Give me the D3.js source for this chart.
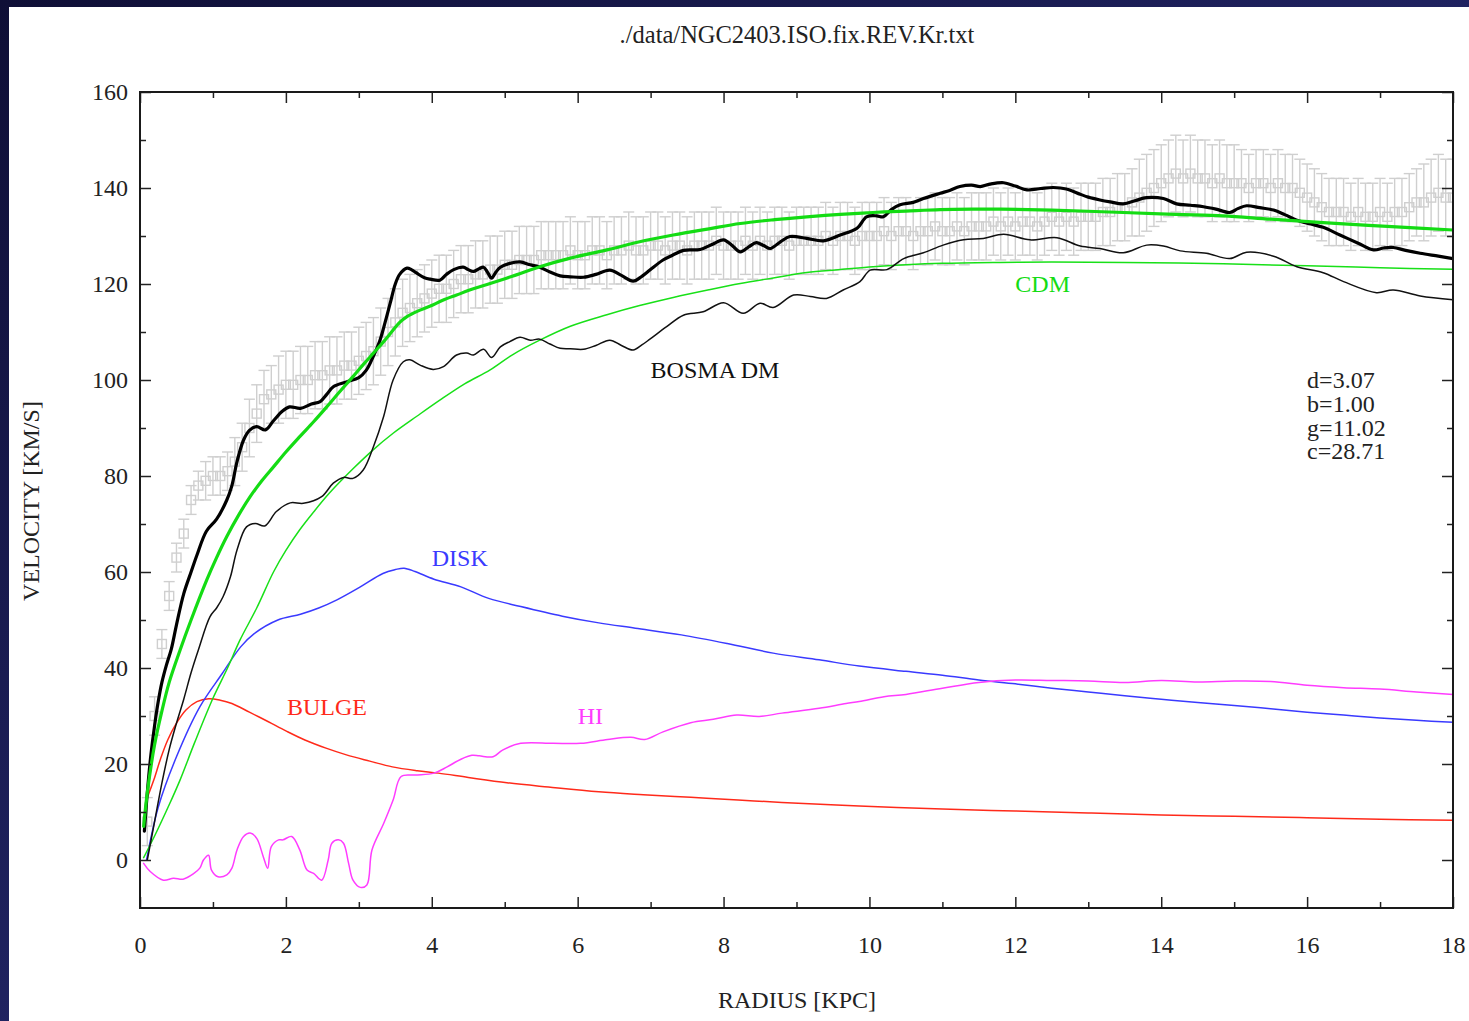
<!DOCTYPE html>
<html>
<head>
<meta charset="utf-8">
<script src="https://cdn.jsdelivr.net/npm/d3@7/dist/d3.min.js"></script>
<style>
  html, body { margin: 0; padding: 0; background: #ffffff; }
  svg { display: block; }
  text { font-family: "Liberation Serif", "Times New Roman", serif; }
</style>
</head>
<body>
<svg id="chart" width="1469" height="1021"></svg>
<script>
// ---------------- DATA ----------------
const chartTitle = "./data/NGC2403.ISO.fix.REV.Kr.txt";
const xTicks = [0, 2, 4, 6, 8, 10, 12, 14, 16, 18];
const yTicks = [0, 20, 40, 60, 80, 100, 120, 140, 160];

// observed rotation curve: radius starts at 0.1 kpc, step 0.1 kpc
const obsStartR = 0.1;
const obsStepR = 0.1;
const obsV = [
  8, 30, 45, 55, 63, 68, 75, 78, 79, 80,
  80, 81, 83, 86, 90, 93, 96, 97, 98, 99,
  99, 100, 100, 101, 101, 102, 102, 103, 103, 104,
  105, 106, 108, 110, 112, 114, 115, 116, 117, 118,
  119, 119, 120, 121, 121, 122, 122, 123, 123, 124,
  124, 125, 125, 125, 126, 126, 126, 126, 127, 126,
  126, 127, 127, 126, 127, 127, 128, 127, 127, 128,
  128, 127, 128, 128, 127, 128, 128, 128, 129, 128,
  128, 128, 129, 128, 129, 128, 129, 129, 128, 129,
  129, 129, 129, 130, 129, 130, 130, 129, 130, 130,
  130, 131, 130, 131, 131, 130, 131, 131, 132, 131,
  131, 132, 131, 132, 132, 132, 133, 132, 133, 132,
  133, 133, 132, 133, 134, 133, 134, 133, 134, 134,
  134, 135, 135, 136, 136, 137, 138, 139, 140, 141,
  142, 143, 142, 143, 142, 142, 141, 142, 141, 141,
  141, 140, 141, 141, 140, 141, 140, 140, 139, 138,
  137, 136, 135, 135, 135, 134, 135, 134, 134, 135,
  134, 135, 135, 136, 137, 137, 138, 139, 138, 138
];
const obsErr = [
  5, 4, 3, 3, 3, 3, 3, 3, 4, 4,
  4, 4, 5, 5, 6, 6, 6, 6, 7, 7,
  7, 7, 7, 7, 7, 7, 7, 7, 7, 7,
  7, 7, 7, 7, 7, 7, 7, 7, 7, 7,
  7, 7, 7, 7, 7, 7, 7, 7, 7, 7,
  7, 7, 7, 7, 7, 7, 7, 7, 7, 7,
  7, 7, 7, 7, 7, 7, 7, 7, 7, 7,
  7, 7, 7, 7, 7, 7, 7, 7, 7, 7,
  7, 7, 7, 7, 7, 7, 7, 7, 7, 7,
  7, 7, 7, 7, 7, 7, 7, 7, 7, 7,
  7, 7, 7, 7, 7, 7, 7, 7, 7, 7,
  7, 7, 7, 7, 7, 7, 7, 7, 7, 7,
  7, 7, 7, 7, 7, 7, 7, 7, 7, 7,
  7, 7, 7, 7, 7, 7, 8, 8, 8, 8,
  8, 8, 8, 8, 8, 8, 8, 8, 8, 8,
  7, 7, 7, 7, 7, 7, 7, 7, 7, 7,
  7, 7, 7, 7, 7, 7, 7, 7, 7, 7,
  7, 7, 7, 7, 7, 8, 8, 8, 8, 8
];

// total model with Bosma dark matter (thick black)
const bosmaTotal = [[0.06,6],[0.1,14],[0.15,22],[0.2,28],[0.25,33],[0.3,37],[0.36,40.5],[0.43,44],[0.5,49],[0.6,55.5],[0.7,60],[0.78,63.5],[0.91,68.5],[1.05,71],[1.19,75],[1.26,78],[1.33,83],[1.42,87.5],[1.5,89.5],[1.6,90.3],[1.72,89.6],[1.83,91.5],[1.95,93.5],[2.05,94.4],[2.2,94.1],[2.35,95],[2.47,95.5],[2.56,97],[2.65,98.6],[2.83,99.6],[3.0,100.5],[3.1,102],[3.2,105],[3.29,108.3],[3.36,112],[3.43,116],[3.5,120],[3.56,122],[3.66,123.3],[3.72,123],[3.79,122.3],[3.9,121.3],[3.98,121],[4.11,120.8],[4.2,122],[4.3,123],[4.43,123.5],[4.5,123],[4.57,122.6],[4.65,123.2],[4.71,123.5],[4.77,122.3],[4.82,121.2],[4.88,122.5],[4.94,123.5],[5.07,124.3],[5.21,124.6],[5.35,124],[5.48,123.5],[5.62,122.5],[5.76,121.7],[5.9,121.5],[6.08,121.4],[6.25,122],[6.44,122.9],[6.6,121.8],[6.76,120.6],[6.88,121.6],[6.99,122.9],[7.17,125],[7.3,126],[7.45,127],[7.68,127.2],[7.85,128.3],[8.0,129.2],[8.12,128],[8.23,126.7],[8.35,127.8],[8.45,128.6],[8.55,128],[8.64,127.4],[8.78,128.8],[8.91,129.9],[9.14,129.5],[9.37,129],[9.6,130.2],[9.83,131.6],[9.96,134],[10.1,134.2],[10.19,134],[10.3,135.5],[10.42,136.5],[10.6,137],[10.74,137.8],[10.97,138.9],[11.1,139.5],[11.24,140.3],[11.4,140.6],[11.52,140.3],[11.65,140.8],[11.84,141.1],[12.0,140.4],[12.16,139.6],[12.35,139.9],[12.52,140.1],[12.7,139.8],[12.89,138.7],[13.0,138.1],[13.16,137.5],[13.3,137.1],[13.48,136.7],[13.65,137.4],[13.8,138],[14.03,137.8],[14.21,136.7],[14.4,136.4],[14.58,136.1],[14.75,135.6],[14.94,134.9],[15.05,135.7],[15.17,136.3],[15.35,135.9],[15.54,135.4],[15.7,134.4],[15.86,133.3],[16.05,132.5],[16.22,131.8],[16.45,130.2],[16.7,128.5],[16.91,127.1],[17.05,127.5],[17.18,127.6],[17.35,127],[17.55,126.4],[17.8,125.8],[18.0,125.3]];

// Bosma dark matter component (thin black)
const bosmaDM = [[0.1,0],[0.2,8],[0.3,16],[0.4,23],[0.5,28.5],[0.6,33.5],[0.7,39],[0.8,43.75],[0.96,50.7],[1.05,52.5],[1.14,54.9],[1.24,59],[1.33,64.6],[1.46,69.4],[1.58,70.1],[1.71,69.6],[1.87,72.6],[2.06,74.4],[2.24,74.3],[2.49,75.7],[2.65,78.5],[2.79,79.7],[2.92,79.5],[3.06,81.25],[3.2,86.1],[3.34,92.4],[3.47,100],[3.61,103.8],[3.7,104.2],[3.84,103.1],[4.02,102.2],[4.16,102.8],[4.34,105.2],[4.48,105.6],[4.57,105.2],[4.71,106.4],[4.82,104.7],[4.94,106.9],[5.07,108],[5.21,108.9],[5.35,108.3],[5.48,108.5],[5.62,107.5],[5.76,106.6],[5.9,106.5],[6.08,106.4],[6.25,107.2],[6.44,108.3],[6.6,107.2],[6.76,106.25],[6.88,107.3],[6.99,108.5],[7.22,111.1],[7.45,113.5],[7.72,114.2],[8.0,116.1],[8.27,113.9],[8.5,116],[8.68,115.1],[8.96,117.7],[9.19,117.4],[9.41,117],[9.64,118.75],[9.87,120.5],[10.01,122.9],[10.24,123],[10.47,125.3],[10.74,126.5],[11.01,128.1],[11.29,129.2],[11.56,129.5],[11.84,130.35],[12.2,129.2],[12.57,129.65],[12.89,127.9],[13.16,127.4],[13.48,126.5],[13.8,128.1],[14.03,127.9],[14.26,126.9],[14.62,126.4],[14.94,125.3],[15.17,126.6],[15.54,125.8],[15.86,123.6],[16.22,122.35],[16.5,120.5],[16.95,118.2],[17.18,118.75],[17.55,117.5],[18.0,116.7]];

// total model with CDM halo (thick green)
const cdmTotal = [[0.05,7],[0.1,14],[0.2,24],[0.3,31],[0.4,37],[0.55,43.75],[0.7,50],[0.914,58.3],[1.05,63],[1.19,67.4],[1.35,71.8],[1.51,75.7],[1.67,79],[1.83,81.9],[2.0,85],[2.19,88.2],[2.38,91.3],[2.56,94.4],[2.74,97.6],[2.92,100.7],[3.06,103.2],[3.2,105.6],[3.34,108],[3.47,110.4],[3.56,112],[3.66,113.2],[3.8,114.3],[3.98,115.4],[4.15,116.6],[4.34,117.7],[4.57,119],[4.8,120.1],[5.16,121.9],[5.48,123.6],[5.9,125.4],[6.4,127.1],[6.85,128.8],[7.31,130.2],[7.8,131.5],[8.23,132.6],[8.7,133.4],[9.14,134],[9.6,134.5],[10.05,134.9],[10.5,135.2],[10.97,135.5],[11.4,135.6],[11.8,135.6],[12.5,135.4],[13.48,134.9],[14.2,134.5],[14.85,134.2],[15.5,133.5],[16.22,132.8],[17.1,132],[18.0,131.25]];

// CDM halo component (thin green)
const cdmHalo = [[0.05,0.5],[0.2,5],[0.4,11.5],[0.55,16.7],[0.75,24.5],[1.0,33.7],[1.2,40],[1.37,45.8],[1.6,52.5],[1.83,60],[2.0,64.5],[2.19,68.8],[2.38,72.5],[2.6,76.5],[2.92,81.5],[3.2,85.5],[3.47,88.9],[3.8,92.5],[4.11,95.8],[4.45,99.2],[4.8,102.1],[5.1,105.2],[5.48,108.3],[5.9,111.2],[6.4,113.6],[6.85,115.5],[7.31,117.2],[7.8,118.8],[8.23,120.1],[8.7,121.3],[9.14,122.4],[9.6,123],[10.05,123.6],[10.5,124],[11.0,124.3],[11.79,124.5],[12.5,124.6],[13.5,124.5],[14.85,124.2],[16.0,123.8],[17.0,123.4],[18.0,123.05]];

// stellar disk (blue)
const disk = [[0.09,0],[0.25,11],[0.5,21.5],[0.82,31.9],[1.13,38.9],[1.38,44.4],[1.57,47.2],[1.89,50],[2.2,51.2],[2.45,52.5],[2.7,54.2],[3.02,56.9],[3.33,59.7],[3.5,60.5],[3.62,60.8],[3.77,60.1],[4.03,58.5],[4.4,56.9],[4.78,54.5],[5.22,52.8],[5.79,50.8],[6.29,49.4],[6.79,48.3],[7.42,46.9],[8.05,45.1],[8.68,43.1],[9.31,41.7],[9.86,40.4],[10.5,39.3],[11,38.5],[11.5,37.5],[12,36.7],[12.5,35.8],[13,35],[13.5,34.2],[14,33.5],[14.5,32.8],[15,32.2],[15.5,31.5],[16,30.8],[16.5,30.2],[17,29.6],[17.5,29.1],[18,28.7]];

// bulge (red)
const bulge = [[0.1,13],[0.19,16.7],[0.28,21],[0.38,25],[0.5,28.5],[0.63,31.25],[0.78,33],[0.94,33.6],[1.1,33.3],[1.26,32.6],[1.5,30.8],[1.76,28.8],[2.0,26.9],[2.26,25],[2.55,23.3],[2.83,21.9],[3.15,20.6],[3.46,19.4],[3.8,18.6],[4.09,18.1],[4.5,17.2],[5.03,16.1],[5.6,15.2],[6.29,14.2],[6.9,13.6],[7.55,13.05],[8.2,12.5],[8.8,12.0],[9.86,11.25],[11,10.6],[12,10.2],[13,9.8],[14,9.4],[15,9.1],[16,8.8],[17,8.5],[18,8.3]];

// HI gas (magenta)
const hiGas = [[0.05,-0.7],[0.14,-2.4],[0.32,-4.2],[0.46,-3.8],[0.59,-4],[0.73,-2.9],[0.82,-1.7],[0.87,0],[0.94,1],[0.98,-2.1],[1.07,-3.5],[1.19,-3.1],[1.26,-1.7],[1.33,2.1],[1.42,4.9],[1.51,5.6],[1.6,4.5],[1.69,0.7],[1.75,-1.7],[1.8,2.8],[1.9,4.2],[1.96,4.2],[2.08,4.9],[2.19,2.1],[2.29,-2.1],[2.38,-2.8],[2.49,-4.2],[2.58,0],[2.63,3.5],[2.72,4.2],[2.79,3.5],[2.86,-0.7],[2.92,-4.2],[3.02,-5.7],[3.11,-5.2],[3.18,2.1],[3.34,7.6],[3.47,12.5],[3.58,17.4],[3.77,17.7],[4.03,18.1],[4.21,19.4],[4.4,21],[4.55,21.8],[4.65,21.7],[4.84,21.5],[4.97,22.9],[5.22,24.3],[5.66,24.3],[6.04,24.3],[6.41,25.1],[6.73,25.55],[6.92,25.1],[7.17,26.7],[7.55,28.6],[7.86,29.3],[8.18,30.2],[8.49,29.9],[8.8,30.6],[9.31,31.6],[9.68,32.6],[9.86,33],[10.2,34],[10.5,34.5],[11.0,35.8],[11.5,37],[12,37.5],[12.5,37.4],[13,37.3],[13.5,37],[14,37.4],[14.5,37.1],[15,37.3],[15.5,37.2],[16,36.4],[16.5,35.9],[17,35.6],[17.5,35],[18,34.5]];

const fitParams = ["d=3.07", "b=1.00", "g=11.02", "c=28.71"];

// ---------------- DRAWING ----------------
const W = 1469, H = 1021;
const svg = d3.select("#chart");

// navy frame background
const defs = svg.append("defs");
const grad = defs.append("linearGradient").attr("id", "bg")
  .attr("x1", "0").attr("y1", "0").attr("x2", "1").attr("y2", "1");
grad.append("stop").attr("offset", "0%").attr("stop-color", "#0f0f36");
grad.append("stop").attr("offset", "100%").attr("stop-color", "#30368a");
svg.append("rect").attr("width", W).attr("height", H).attr("fill", "url(#bg)");
svg.append("rect").attr("x", 9).attr("y", 7).attr("width", W - 9).attr("height", H - 7).attr("fill", "#ffffff");

const x = d3.scaleLinear().domain([0, 18]).range([140, 1453]);
const y = d3.scaleLinear().domain([-10, 160]).range([908, 92]);

const plot = svg.append("g");
plot.append("clipPath").attr("id", "clip")
  .append("rect").attr("x", x(0)).attr("y", y(160)).attr("width", x(18) - x(0)).attr("height", y(-10) - y(160));

// observed data with error bars
const obs = obsV.map((v, i) => ({ r: +(obsStartR + i * obsStepR).toFixed(2), v: v, e: obsErr[i] }));
const gObs = plot.append("g").attr("clip-path", "url(#clip)")
  .attr("stroke", "#cfcfcf").attr("stroke-width", 1.4).attr("fill", "none");
const cap = 5.5, sq = 4.5;
obs.forEach(d => {
  const cx = x(d.r), cy = y(d.v), y1 = y(d.v + d.e), y2 = y(d.v - d.e);
  gObs.append("line").attr("x1", cx).attr("x2", cx).attr("y1", y1).attr("y2", y2);
  gObs.append("line").attr("x1", cx - cap).attr("x2", cx + cap).attr("y1", y1).attr("y2", y1);
  gObs.append("line").attr("x1", cx - cap).attr("x2", cx + cap).attr("y1", y2).attr("y2", y2);
  gObs.append("rect").attr("x", cx - sq).attr("y", cy - sq).attr("width", 2 * sq).attr("height", 2 * sq);
});

const lineGen = d3.line().x(d => x(d[0])).y(d => y(d[1])).curve(d3.curveCatmullRom.alpha(0.5));
const series = [
  { data: bulge, color: "#ff2a1a", w: 1.5 },
  { data: disk, color: "#3a3aff", w: 1.5 },
  { data: hiGas, color: "#ff3cff", w: 1.5 },
  { data: cdmHalo, color: "#18e018", w: 1.5 },
  { data: bosmaDM, color: "#111111", w: 1.5 },
  { data: bosmaTotal, color: "#000000", w: 3.2 },
  { data: cdmTotal, color: "#14dc14", w: 3.2 }
];
const gLines = plot.append("g").attr("clip-path", "url(#clip)");
series.forEach(s => {
  gLines.append("path").datum(s.data).attr("d", lineGen)
    .attr("fill", "none").attr("stroke", s.color).attr("stroke-width", s.w)
    .attr("stroke-linejoin", "round").attr("stroke-linecap", "round");
});

// axes with inward ticks
const fontSize = 24;
const xMinor = d3.range(1, 18, 2);
const yMinor = d3.range(-10, 160, 20).filter(v => v > -10);
function styleAxis(g) {
  g.select(".domain").remove();
  g.selectAll(".tick line").attr("stroke", "#222").attr("stroke-width", 1.5);
  g.selectAll(".tick text").attr("fill", "#222").style("font-size", fontSize + "px")
    .style("font-family", '"Liberation Serif", "Times New Roman", serif');
}
svg.append("g").attr("transform", `translate(0,${y(-10)})`)
  .call(d3.axisBottom(x).tickValues(xTicks).tickSize(-11).tickPadding(28).tickFormat(d3.format("d"))).call(styleAxis);
svg.append("g").attr("transform", `translate(0,${y(-10)})`)
  .call(d3.axisBottom(x).tickValues(xMinor).tickSize(-6).tickFormat("")).call(styleAxis);
svg.append("g").attr("transform", `translate(0,${y(160)})`)
  .call(d3.axisTop(x).tickValues(xTicks).tickSize(-11).tickFormat("")).call(styleAxis);
svg.append("g").attr("transform", `translate(0,${y(160)})`)
  .call(d3.axisTop(x).tickValues(xMinor).tickSize(-6).tickFormat("")).call(styleAxis);
svg.append("g").attr("transform", `translate(${x(0)},0)`)
  .call(d3.axisLeft(y).tickValues(yTicks).tickSize(-11).tickPadding(12).tickFormat(d3.format("d"))).call(styleAxis);
svg.append("g").attr("transform", `translate(${x(0)},0)`)
  .call(d3.axisLeft(y).tickValues(yMinor).tickSize(-6).tickFormat("")).call(styleAxis);
svg.append("g").attr("transform", `translate(${x(18)},0)`)
  .call(d3.axisRight(y).tickValues(yTicks).tickSize(-11).tickFormat("")).call(styleAxis);
svg.append("g").attr("transform", `translate(${x(18)},0)`)
  .call(d3.axisRight(y).tickValues(yMinor).tickSize(-6).tickFormat("")).call(styleAxis);

// frame
svg.append("rect").attr("x", x(0)).attr("y", y(160)).attr("width", x(18) - x(0)).attr("height", y(-10) - y(160))
  .attr("fill", "none").attr("stroke", "#1a1a1a").attr("stroke-width", 2);

// titles
svg.append("text").attr("x", 797).attr("y", 43).attr("text-anchor", "middle")
  .style("font-size", "24.5px").attr("fill", "#222").text(chartTitle);
svg.append("text").attr("x", 797).attr("y", 1008).attr("text-anchor", "middle")
  .style("font-size", fontSize + "px").attr("fill", "#222").text("RADIUS [KPC]");
svg.append("text").attr("transform", "translate(39,501) rotate(-90)").attr("text-anchor", "middle")
  .style("font-size", fontSize + "px").attr("fill", "#222").text("VELOCITY [KM/S]");

// curve labels (positions in data units)
const curveLabels = [
  { t: "BULGE", r: 2.015, v: 30.2, c: "#ff2a1a" },
  { t: "HI", r: 6.0, v: 28.3, c: "#ff3cff" },
  { t: "DISK", r: 4.0, v: 61.25, c: "#3a3aff" },
  { t: "BOSMA DM", r: 7.0, v: 100.4, c: "#111111" },
  { t: "CDM", r: 12.0, v: 118.3, c: "#14dc14" }
];
curveLabels.forEach(l => {
  svg.append("text").attr("x", x(l.r)).attr("y", y(l.v))
    .style("font-size", fontSize + "px").attr("fill", l.c).text(l.t);
});
fitParams.forEach((p, i) => {
  svg.append("text").attr("x", x(16.0)).attr("y", y(98.3) + i * 23.7)
    .style("font-size", fontSize + "px").attr("fill", "#222").text(p);
});
</script>
</body>
</html>
